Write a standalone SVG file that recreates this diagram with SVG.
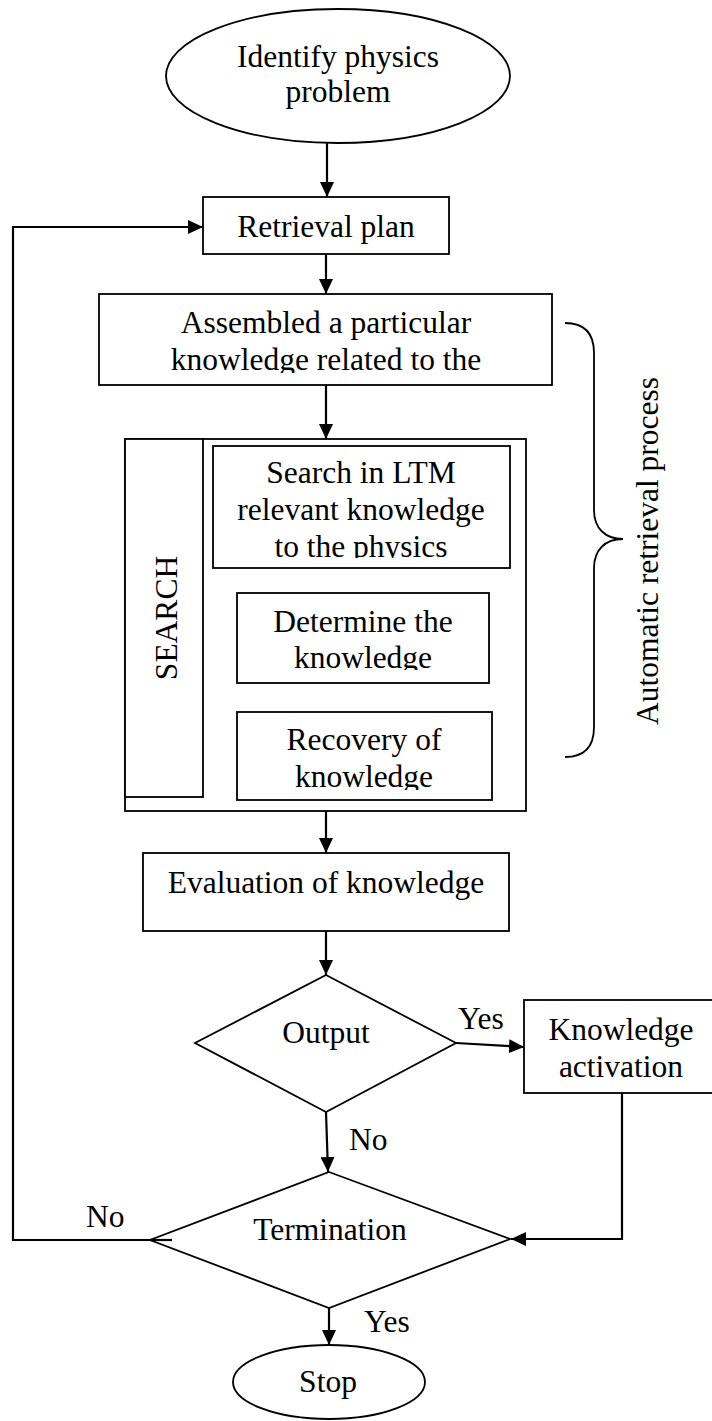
<svg xmlns="http://www.w3.org/2000/svg" width="712" height="1421" viewBox="0 0 712 1421">
  <style>
    .shape { fill: #ffffff; stroke: #000000; stroke-width: 1.8; }
    .edge { fill: none; stroke: #000000; stroke-width: 2.2; }
    .brace { fill: none; stroke: #000000; stroke-width: 1.8; }
    text { font-family: "Liberation Serif", "Times New Roman", serif; font-size: 31.5px; fill: #000000; }
    .c { text-anchor: middle; }
  </style>
  <defs>
    <marker id="arrow" markerUnits="userSpaceOnUse" markerWidth="16" markerHeight="14" refX="15" refY="7" orient="auto">
      <path d="M0,0 L15,7 L0,14 Z" fill="#000000"/>
    </marker>
    <clipPath id="clip-assembled"><rect x="99" y="294" width="453" height="79"/></clipPath>
    <clipPath id="clip-search-ltm"><rect x="213" y="446" width="297" height="112"/></clipPath>
    <clipPath id="clip-determine"><rect x="237" y="593" width="252" height="77"/></clipPath>
    <clipPath id="clip-recovery"><rect x="237" y="712" width="255" height="78"/></clipPath>
  </defs>

  <rect width="712" height="1421" fill="#ffffff"/>

  <!-- connectors -->
  <g id="connectors">
    <line class="edge" x1="327" y1="143" x2="327" y2="197" marker-end="url(#arrow)"/>
    <line class="edge" x1="326" y1="254" x2="326" y2="294" marker-end="url(#arrow)"/>
    <line class="edge" x1="326" y1="385" x2="326" y2="439" marker-end="url(#arrow)"/>
    <line class="edge" x1="363" y1="568" x2="363" y2="593" marker-end="url(#arrow)"/>
    <line class="edge" x1="364" y1="683" x2="364" y2="712" marker-end="url(#arrow)"/>
    <line class="edge" x1="326" y1="811" x2="326" y2="853" marker-end="url(#arrow)"/>
    <line class="edge" x1="326" y1="931" x2="326" y2="975" marker-end="url(#arrow)"/>
    <line class="edge" x1="456" y1="1043" x2="524" y2="1047" marker-end="url(#arrow)"/>
    <line class="edge" x1="326" y1="1112" x2="328" y2="1172" marker-end="url(#arrow)"/>
    <polyline class="edge" points="622,1093 622,1239 511,1239" marker-end="url(#arrow)"/>
    <polyline class="edge" points="172,1240 13,1240 13,227 203,227" marker-end="url(#arrow)"/>
    <line class="edge" x1="329" y1="1308" x2="329" y2="1345" marker-end="url(#arrow)"/>
  </g>

  <!-- edge labels -->
  <g id="edge-labels">
    <text x="458" y="1029">Yes</text>
    <text x="349" y="1150">No</text>
    <text x="86" y="1227">No</text>
    <text x="364" y="1332">Yes</text>
  </g>

  <g id="start">
    <ellipse class="shape" cx="338" cy="76" rx="172" ry="67"/>
    <text class="c" x="338" y="67">Identify physics</text>
    <text class="c" x="338" y="102">problem</text>
  </g>

  <g id="retrieval-plan">
    <rect class="shape" x="203" y="197" width="246" height="57"/>
    <text class="c" x="326" y="237">Retrieval plan</text>
  </g>

  <g id="assembled">
    <rect class="shape" x="99" y="294" width="453" height="91"/>
    <g clip-path="url(#clip-assembled)">
      <text class="c" x="326" y="333">Assembled a particular</text>
      <text class="c" x="326" y="370">knowledge related to the</text>
    </g>
  </g>

  <g id="search-group">
    <rect class="shape" x="125" y="439" width="401" height="372"/>
    <rect class="shape" x="125" y="439" width="78" height="358"/>
    <text class="c" transform="translate(177,618) rotate(-90)" x="0" y="0">SEARCH</text>
  </g>

  <g id="search-ltm">
    <rect class="shape" x="213" y="446" width="297" height="122"/>
    <g clip-path="url(#clip-search-ltm)">
      <text class="c" x="361" y="483">Search in LTM</text>
      <text class="c" x="361" y="520">relevant knowledge</text>
      <text class="c" x="361" y="557">to the physics</text>
    </g>
  </g>

  <g id="determine">
    <rect class="shape" x="237" y="593" width="252" height="90"/>
    <g clip-path="url(#clip-determine)">
      <text class="c" x="363" y="632">Determine the</text>
      <text class="c" x="363" y="668">knowledge</text>
    </g>
  </g>

  <g id="recovery">
    <rect class="shape" x="237" y="712" width="255" height="88"/>
    <g clip-path="url(#clip-recovery)">
      <text class="c" x="364" y="750">Recovery of</text>
      <text class="c" x="364" y="787">knowledge</text>
    </g>
  </g>

  <g id="automatic-retrieval">
    <path class="brace" d="M565,323 C585,323 594,333 594,353 L594,510 C594,528 605,539 623,539 C605,539 594,550 594,568 L594,727 C594,747 585,757 565,757"/>
    <text class="c" transform="translate(658,551) rotate(-90)" x="0" y="0">Automatic retrieval process</text>
  </g>

  <g id="evaluation">
    <rect class="shape" x="143" y="853" width="366" height="78"/>
    <text class="c" x="326" y="893">Evaluation of knowledge</text>
  </g>

  <g id="output">
    <polygon class="shape" points="326,975 456,1043 326,1112 195,1043"/>
    <text class="c" x="326" y="1043">Output</text>
  </g>

  <g id="knowledge-activation">
    <rect class="shape" x="524" y="1000" width="194" height="93"/>
    <text class="c" x="621" y="1040">Knowledge</text>
    <text class="c" x="621" y="1077">activation</text>
  </g>

  <g id="termination">
    <polygon class="shape" points="329,1172 510,1239 329,1308 150,1240"/>
    <line class="edge" x1="150" y1="1240" x2="172" y2="1240"/>
    <text class="c" x="330" y="1240">Termination</text>
  </g>

  <g id="stop">
    <ellipse class="shape" cx="329" cy="1382" rx="96" ry="37"/>
    <text class="c" x="328" y="1392">Stop</text>
  </g>
</svg>
